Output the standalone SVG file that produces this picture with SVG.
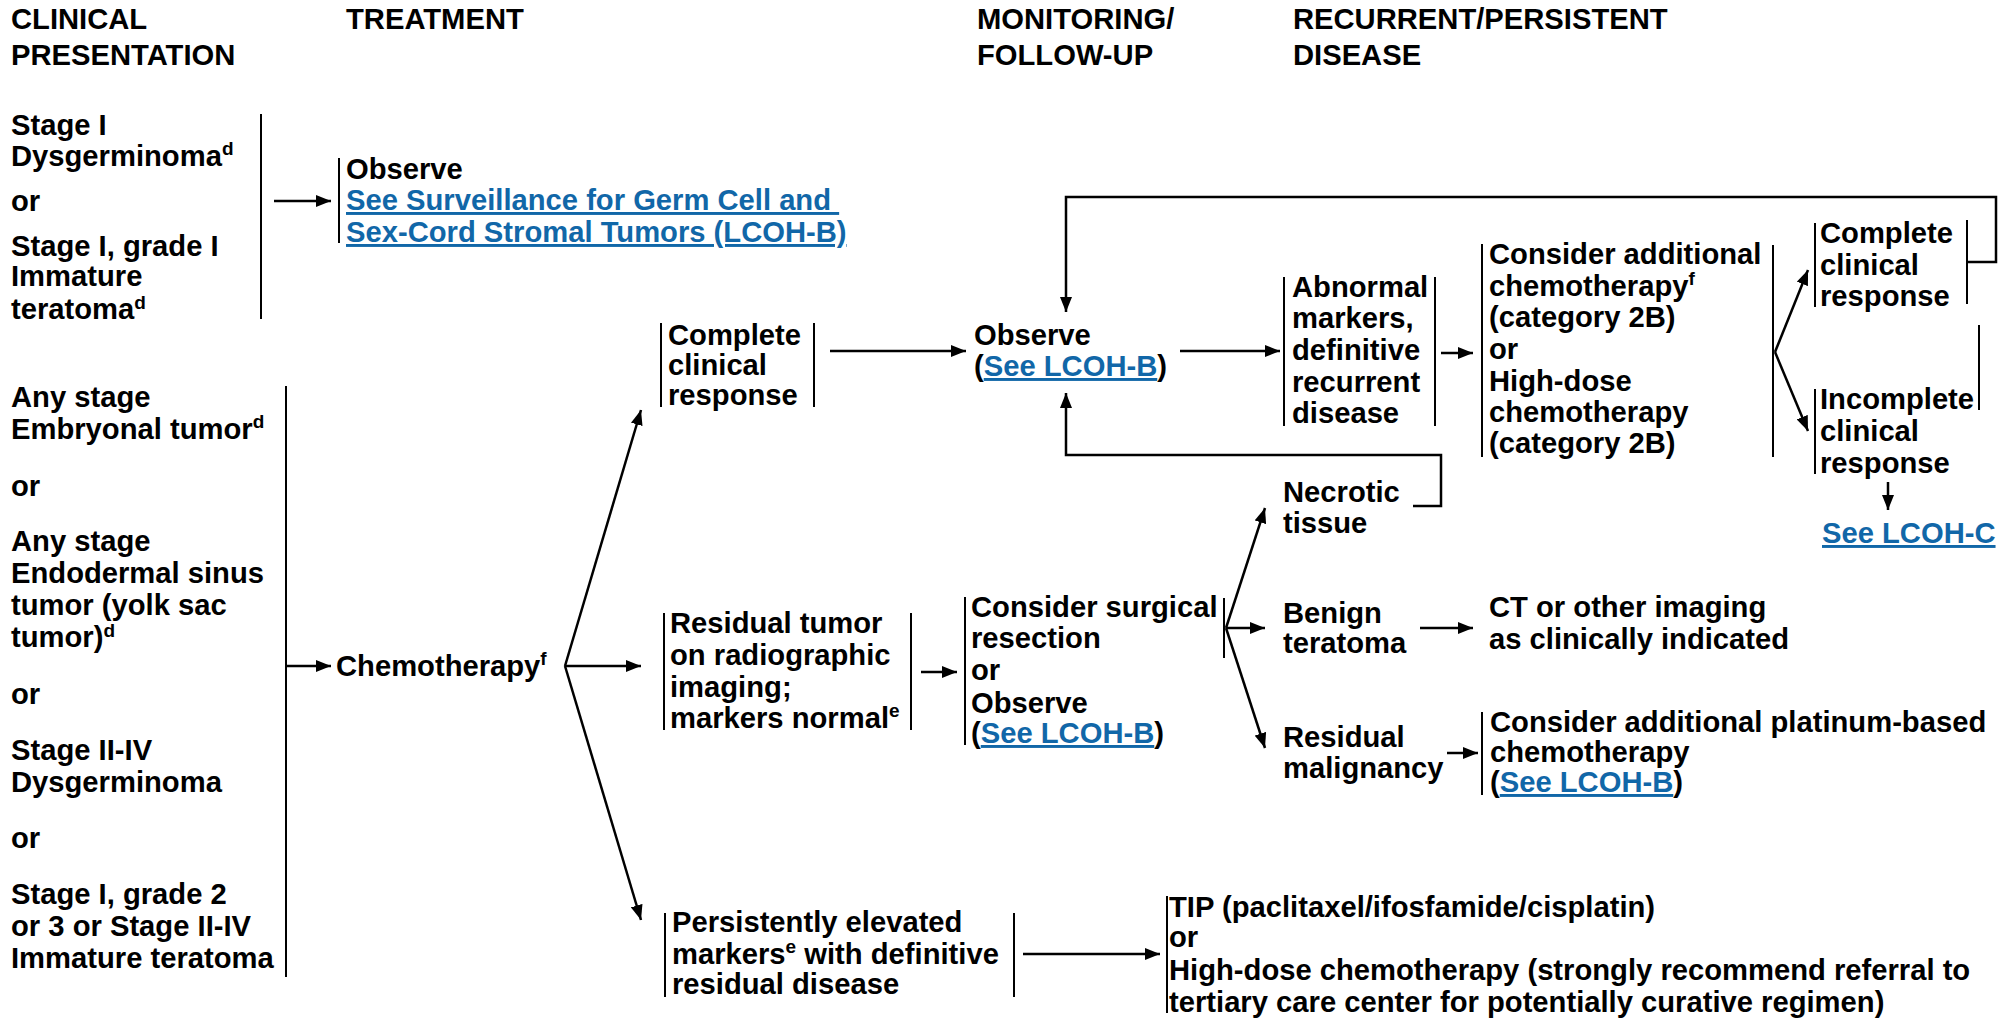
<svg xmlns="http://www.w3.org/2000/svg" width="2011" height="1021" viewBox="0 0 2011 1021">
<style>
.t{font-family:"Liberation Sans",Arial,Helvetica,sans-serif;font-weight:bold;font-size:29.2px;fill:#000}
.h{font-family:"Liberation Sans",Arial,Helvetica,sans-serif;font-weight:bold;font-size:29.2px;fill:#000}
.sup{font-size:19px}
.lk{fill:#1167a8;text-decoration:underline}
.br{stroke:#000;stroke-width:2;fill:none}
.cn{stroke:#000;stroke-width:2.5;fill:none}
</style>
<defs>
<marker id="ah" markerWidth="15" markerHeight="12" refX="15" refY="6" orient="auto" markerUnits="userSpaceOnUse">
<path d="M0,0 L15,6 L0,12 z" fill="#000"/>
</marker>
</defs>
<rect width="2011" height="1021" fill="#fff"/>

<g id="headers">
<text class="h" x="11" y="29">CLINICAL</text>
<text class="h" x="11" y="65">PRESENTATION</text>
<text class="h" x="346" y="29">TREATMENT</text>
<text class="h" x="977" y="29">MONITORING/</text>
<text class="h" x="977" y="65">FOLLOW-UP</text>
<text class="h" x="1293" y="29">RECURRENT/PERSISTENT</text>
<text class="h" x="1293" y="65">DISEASE</text>
</g>

<g id="stage1">
<text class="t" x="11" y="135">Stage I</text>
<text class="t" x="11" y="166">Dysgerminoma<tspan class="sup" dy="-11">d</tspan></text>
<text class="t" x="11" y="211">or</text>
<text class="t" x="11" y="256">Stage I, grade I</text>
<text class="t" x="11" y="286">Immature</text>
<text class="t" x="11" y="319">teratoma<tspan class="sup" dy="-10">d</tspan></text>
<line class="br" x1="261" y1="114" x2="261" y2="319"/>
</g>

<g id="observe-surveillance">
<line class="br" x1="339" y1="158" x2="339" y2="243"/>
<text class="t" x="346" y="179">Observe</text>
<text class="t lk" x="346" y="210">See Surveillance for Germ Cell and&#160;</text>
<text class="t lk" x="346" y="242">Sex-Cord Stromal Tumors (LCOH-B)</text>
</g>

<g id="anystage">
<text class="t" x="11" y="407">Any stage</text>
<text class="t" x="11" y="439">Embryonal tumor<tspan class="sup" dy="-11">d</tspan></text>
<text class="t" x="11" y="496">or</text>
<text class="t" x="11" y="551">Any stage</text>
<text class="t" x="11" y="583">Endodermal sinus</text>
<text class="t" x="11" y="615">tumor (yolk sac</text>
<text class="t" x="11" y="647">tumor)<tspan class="sup" dy="-10">d</tspan></text>
<text class="t" x="11" y="704">or</text>
<text class="t" x="11" y="760">Stage II-IV</text>
<text class="t" x="11" y="792">Dysgerminoma</text>
<text class="t" x="11" y="848">or</text>
<text class="t" x="11" y="904">Stage I, grade 2</text>
<text class="t" x="11" y="936">or 3 or Stage II-IV</text>
<text class="t" x="11" y="968">Immature teratoma</text>
<line class="br" x1="286" y1="386" x2="286" y2="977"/>
</g>

<g id="chemotherapy">
<text class="t" x="336" y="676">Chemotherapy<tspan class="sup" dy="-11">f</tspan></text>
</g>

<g id="complete-response">
<line class="br" x1="661" y1="323" x2="661" y2="407"/>
<text class="t" x="668" y="345">Complete</text>
<text class="t" x="668" y="375">clinical</text>
<text class="t" x="668" y="405">response</text>
<line class="br" x1="814" y1="323" x2="814" y2="407"/>
</g>

<g id="observe-mid">
<text class="t" x="974" y="345">Observe</text>
<text class="t" x="974" y="376">(<tspan class="lk">See LCOH-B</tspan>)</text>
</g>

<g id="abnormal">
<line class="br" x1="1284" y1="277" x2="1284" y2="426"/>
<text class="t" x="1292" y="297">Abnormal</text>
<text class="t" x="1292" y="328">markers,</text>
<text class="t" x="1292" y="360">definitive</text>
<text class="t" x="1292" y="392">recurrent</text>
<text class="t" x="1292" y="423">disease</text>
<line class="br" x1="1435" y1="277" x2="1435" y2="426"/>
</g>

<g id="consider-additional">
<line class="br" x1="1482" y1="244" x2="1482" y2="457"/>
<text class="t" x="1489" y="264">Consider additional</text>
<text class="t" x="1489" y="296">chemotherapy<tspan class="sup" dy="-11">f</tspan></text>
<text class="t" x="1489" y="327">(category 2B)</text>
<text class="t" x="1489" y="359">or</text>
<text class="t" x="1489" y="391">High-dose</text>
<text class="t" x="1489" y="422">chemotherapy</text>
<text class="t" x="1489" y="453">(category 2B)</text>
<line class="br" x1="1773" y1="245" x2="1773" y2="457"/>
</g>

<g id="complete-response-2">
<line class="br" x1="1815" y1="223" x2="1815" y2="307"/>
<text class="t" x="1820" y="243">Complete</text>
<text class="t" x="1820" y="275">clinical</text>
<text class="t" x="1820" y="306">response</text>
<line class="br" x1="1967" y1="220" x2="1967" y2="304"/>
</g>

<g id="incomplete-response">
<line class="br" x1="1815" y1="389" x2="1815" y2="474"/>
<text class="t" x="1820" y="409">Incomplete</text>
<text class="t" x="1820" y="441">clinical</text>
<text class="t" x="1820" y="473">response</text>
<line class="br" x1="1979" y1="325" x2="1979" y2="410"/>
</g>

<g id="see-lcoh-c">
<text class="t lk" x="1822" y="543">See LCOH-C</text>
</g>

<g id="residual-tumor">
<line class="br" x1="664" y1="613" x2="664" y2="730"/>
<text class="t" x="670" y="633">Residual tumor</text>
<text class="t" x="670" y="665">on radiographic</text>
<text class="t" x="670" y="697">imaging;</text>
<text class="t" x="670" y="728">markers normal<tspan class="sup" dy="-11">e</tspan></text>
<line class="br" x1="911" y1="613" x2="911" y2="730"/>
</g>

<g id="consider-surgical">
<line class="br" x1="965" y1="597" x2="965" y2="745"/>
<text class="t" x="971" y="617">Consider surgical</text>
<text class="t" x="971" y="648">resection</text>
<text class="t" x="971" y="680">or</text>
<text class="t" x="971" y="713">Observe</text>
<text class="t" x="971" y="743">(<tspan class="lk">See LCOH-B</tspan>)</text>
<line class="br" x1="1224" y1="598" x2="1224" y2="658"/>
</g>

<g id="necrotic">
<text class="t" x="1283" y="502">Necrotic</text>
<text class="t" x="1283" y="533">tissue</text>
</g>

<g id="benign">
<text class="t" x="1283" y="623">Benign</text>
<text class="t" x="1283" y="653">teratoma</text>
</g>

<g id="ct-imaging">
<text class="t" x="1489" y="617">CT or other imaging</text>
<text class="t" x="1489" y="649">as clinically indicated</text>
</g>

<g id="residual-malignancy">
<text class="t" x="1283" y="747">Residual</text>
<text class="t" x="1283" y="778">malignancy</text>
</g>

<g id="consider-platinum">
<line class="br" x1="1482" y1="712" x2="1482" y2="795"/>
<text class="t" x="1490" y="732">Consider additional platinum-based</text>
<text class="t" x="1490" y="762">chemotherapy</text>
<text class="t" x="1490" y="792">(<tspan class="lk">See LCOH-B</tspan>)</text>
</g>

<g id="persistent">
<line class="br" x1="665" y1="913" x2="665" y2="997"/>
<text class="t" x="672" y="932">Persistently elevated</text>
<text class="t" x="672" y="964">markers<tspan class="sup" dy="-11">e</tspan><tspan dy="11"> with definitive</tspan></text>
<text class="t" x="672" y="994">residual disease</text>
<line class="br" x1="1014" y1="913" x2="1014" y2="997"/>
</g>

<g id="tip">
<line class="br" x1="1167" y1="896" x2="1167" y2="1013"/>
<text class="t" x="1169" y="917">TIP (paclitaxel/ifosfamide/cisplatin)</text>
<text class="t" x="1169" y="947">or</text>
<text class="t" x="1169" y="980">High-dose chemotherapy (strongly recommend referral to</text>
<text class="t" x="1169" y="1012">tertiary care center for potentially curative regimen)</text>
</g>

<g id="connectors">
<line class="cn" x1="274" y1="201" x2="331" y2="201" marker-end="url(#ah)"/>
<line class="cn" x1="286" y1="666" x2="331" y2="666" marker-end="url(#ah)"/>
<line class="cn" x1="565" y1="666" x2="641" y2="410" marker-end="url(#ah)"/>
<line class="cn" x1="565" y1="666" x2="641" y2="666" marker-end="url(#ah)"/>
<line class="cn" x1="565" y1="666" x2="641" y2="920" marker-end="url(#ah)"/>
<line class="cn" x1="830" y1="351" x2="966" y2="351" marker-end="url(#ah)"/>
<line class="cn" x1="1180" y1="351" x2="1280" y2="351" marker-end="url(#ah)"/>
<line class="cn" x1="1441" y1="353" x2="1473" y2="353" marker-end="url(#ah)"/>
<line class="cn" x1="1775" y1="352" x2="1808" y2="270" marker-end="url(#ah)"/>
<line class="cn" x1="1775" y1="352" x2="1808" y2="431" marker-end="url(#ah)"/>
<polyline class="cn" points="1967,262 1996,262 1996,197 1066,197 1066,312" marker-end="url(#ah)"/>
<polyline class="cn" points="1413,506 1441,506 1441,455 1066,455 1066,393" marker-end="url(#ah)"/>
<line class="cn" x1="1888" y1="482" x2="1888" y2="510" marker-end="url(#ah)"/>
<line class="cn" x1="921" y1="672" x2="957" y2="672" marker-end="url(#ah)"/>
<line class="cn" x1="1226" y1="628" x2="1265" y2="508" marker-end="url(#ah)"/>
<line class="cn" x1="1226" y1="628" x2="1265" y2="628" marker-end="url(#ah)"/>
<line class="cn" x1="1226" y1="628" x2="1265" y2="748" marker-end="url(#ah)"/>
<line class="cn" x1="1420" y1="628" x2="1473" y2="628" marker-end="url(#ah)"/>
<line class="cn" x1="1447" y1="753" x2="1478" y2="753" marker-end="url(#ah)"/>
<line class="cn" x1="1023" y1="954" x2="1160" y2="954" marker-end="url(#ah)"/>
</g>
</svg>
